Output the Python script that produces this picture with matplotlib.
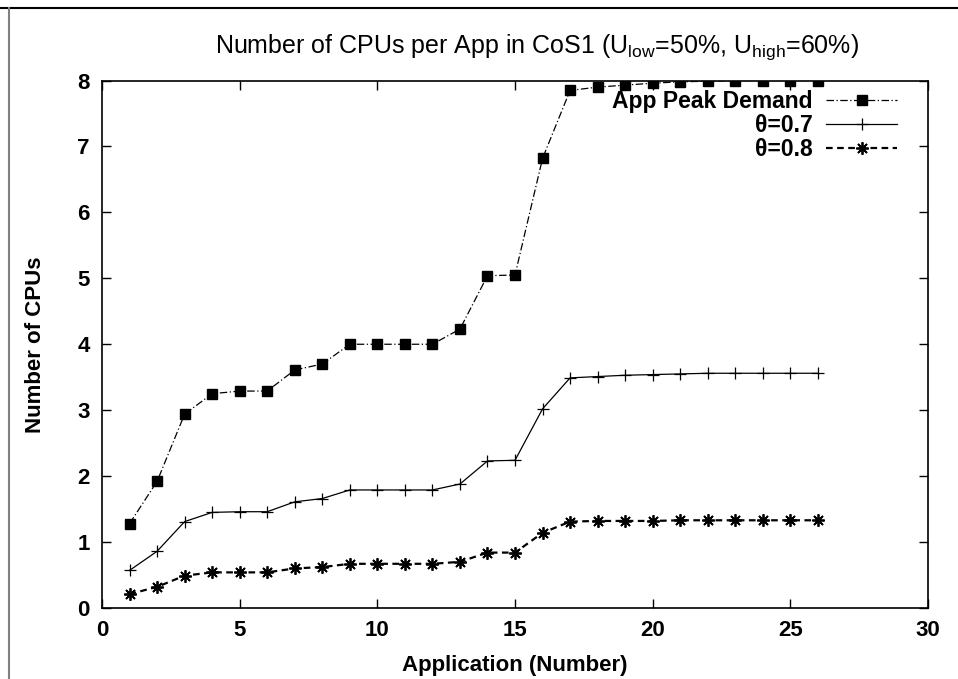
import matplotlib
matplotlib.use("Agg")
import matplotlib.pyplot as plt
from matplotlib.lines import Line2D

apps = list(range(1, 27))
peak_demand = [1.28, 1.92, 2.94, 3.25, 3.29, 3.29, 3.61, 3.70, 4.00, 4.00,
               4.00, 4.00, 4.23, 5.04, 5.05, 6.82, 7.85, 7.90, 7.93, 7.96,
               7.98, 7.99, 8.00, 8.00, 8.00, 8.00]
theta_07 = [0.57, 0.86, 1.31, 1.45, 1.46, 1.46, 1.61, 1.66, 1.79, 1.79,
            1.79, 1.79, 1.88, 2.23, 2.24, 3.02, 3.49, 3.51, 3.53, 3.54,
            3.55, 3.56, 3.56, 3.56, 3.56, 3.56]
theta_08 = [0.21, 0.32, 0.49, 0.54, 0.54, 0.54, 0.60, 0.62, 0.67, 0.67,
            0.67, 0.67, 0.70, 0.84, 0.84, 1.14, 1.31, 1.32, 1.32, 1.32,
            1.33, 1.33, 1.33, 1.33, 1.33, 1.33]
labels = ["App Peak Demand", "\u03b8=0.7", "\u03b8=0.8"]

plt.rcParams['font.family'] = ['Liberation Sans', 'DejaVu Sans']
plt.rcParams['mathtext.fontset'] = 'custom'
plt.rcParams['mathtext.rm'] = 'Liberation Sans'

fig = plt.figure(figsize=(9.58, 6.79), dpi=100)
ax = fig.add_axes([0.1065, 0.1046, 0.8622, 0.7768])

ax.plot(apps, peak_demand, color="black", lw=0.9, ls=(0, (6, 2, 1, 2)),
        marker="s", ms=7.5, label=labels[0])
ax.plot(apps, theta_07, color="black", lw=0.9, ls="-",
        marker="+", ms=9, mew=0.9, label=labels[1])
ax.plot(apps, theta_08, color="black", lw=1.6, ls=(0, (3, 2)),
        marker=(8, 2, 0), ms=9, mew=1.3, label=labels[2])

ax.set_xlim(0, 30)
ax.set_ylim(0, 8)
ax.set_xticks(range(0, 31, 5))
ax.set_yticks(range(0, 9))
ax.tick_params(direction="in", length=6.5, width=1, top=True, right=True,
               labelsize=16, pad=9)
for t in ax.get_xticklabels() + ax.get_yticklabels():
    t.set_fontweight("bold")
for s in ax.spines.values():
    s.set_linewidth(1.2)

ax.set_xlabel("Application (Number)", fontsize=16, fontweight="bold", labelpad=10)
ax.set_ylabel("Number of CPUs", fontsize=16, fontweight="bold", labelpad=22)

fig.text(0.561, 0.93,
         r"Number of CPUs per App in CoS1 (U$\mathregular{_{low}}$=50%, U$\mathregular{_{high}}$=60%)",
         ha="center", va="center", fontsize=18)

leg = ax.legend(loc="upper right", bbox_to_anchor=(0.974, 1.0), frameon=False,
                markerfirst=False, fontsize=16.5, handlelength=3.1,
                handletextpad=0.6, labelspacing=0.05, borderaxespad=0)
for t in leg.get_texts():
    t.set_fontweight("bold")
    t.set_ha("right")
leg._legend_box.align = "right"

# outer frame of the page
fig.add_artist(Line2D([0, 1], [1 - 8 / 679, 1 - 8 / 679], transform=fig.transFigure,
                      color="black", lw=1.5))
fig.add_artist(Line2D([9 / 958, 9 / 958], [0, 1 - 8 / 679], transform=fig.transFigure,
                      color="#808080", lw=1.5))

fig.savefig("out.png", dpi=100)
